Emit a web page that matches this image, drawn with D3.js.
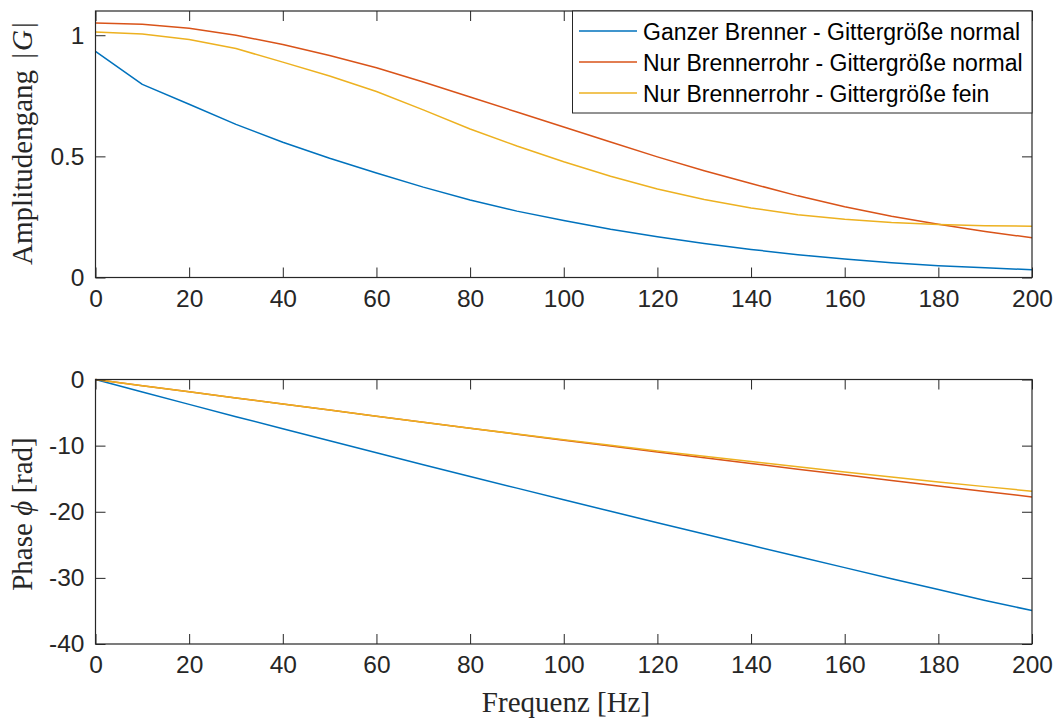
<!DOCTYPE html>
<html>
<head>
<meta charset="utf-8">
<script src="https://cdn.jsdelivr.net/npm/d3@7"></script>
<style>
  html, body { margin: 0; padding: 0; background: #fff; }
  svg { display: block; }
  .tick text { font-family: "Liberation Sans", Arial, sans-serif; font-size: 24.5px; fill: #262626; }
  .lbl { font-family: "Liberation Serif", "Times New Roman", serif; font-size: 29px; fill: #262626; }
  .leg { font-family: "Liberation Sans", Arial, sans-serif; font-size: 23px; fill: #000; }
</style>
</head>
<body>
<script>
// ---- data ----
const freq = [0,10,20,30,40,50,60,70,80,90,100,110,120,130,140,150,160,170,180,190,200];
const seriesNames = [
  "Ganzer Brenner - Gittergröße normal",
  "Nur Brennerrohr - Gittergröße normal",
  "Nur Brennerrohr - Gittergröße fein"
];
const seriesColors = ["#0072BD", "#D95319", "#EDB120"];
const ampGanzNormal = [0.933,0.797,0.715,0.632,0.558,0.492,0.431,0.373,0.320,0.274,0.235,0.199,0.168,0.140,0.116,0.094,0.076,0.061,0.049,0.040,0.032];
const ampRohrNormal = [1.050,1.045,1.029,1.000,0.962,0.916,0.866,0.807,0.745,0.683,0.621,0.559,0.498,0.441,0.388,0.337,0.292,0.253,0.220,0.190,0.164];
const ampRohrFein   = [1.013,1.005,0.982,0.945,0.889,0.832,0.768,0.692,0.613,0.543,0.478,0.418,0.365,0.322,0.287,0.259,0.240,0.227,0.219,0.214,0.212];
const phaseGanzNormal = [0,-1.88,-3.76,-5.62,-7.45,-9.27,-11.08,-12.88,-14.66,-16.43,-18.19,-19.93,-21.66,-23.38,-25.08,-26.77,-28.45,-30.12,-31.77,-33.41,-34.95];
const phaseRohrNormal = [0,-0.93,-1.86,-2.79,-3.71,-4.63,-5.55,-6.46,-7.37,-8.27,-9.17,-10.06,-10.95,-11.83,-12.70,-13.56,-14.42,-15.27,-16.11,-16.94,-17.76];
const phaseRohrFein   = [0,-0.93,-1.86,-2.79,-3.71,-4.63,-5.55,-6.46,-7.36,-8.24,-9.10,-9.95,-10.80,-11.60,-12.40,-13.20,-14.00,-14.75,-15.50,-16.20,-16.90];
const xTicks = [0,20,40,60,80,100,120,140,160,180,200];
const ampTicks = [0,0.5,1];
const phaseTicks = [0,-10,-20,-30,-40];

const W = 1057, H = 720;
const svg = d3.select("body").append("svg").attr("width", W).attr("height", H);

const xL = 95.5, xR = 1032;
const x = d3.scaleLinear().domain([0,200]).range([xL, xR]);
const yA = d3.scaleLinear().domain([0,1.1]).range([277.5, 11]);
const yP = d3.scaleLinear().domain([-40,0]).range([644, 379.5]);

function panel(y, yTicks, yFmt, series) {
  const g = svg.append("g");
  const [yb, yt] = y.range();
  const line = d3.line().x((d,i) => x(freq[i])).y(d => y(d));
  series.forEach((s, k) => {
    g.append("path").datum(s).attr("d", line)
      .attr("fill","none").attr("stroke", seriesColors[k]).attr("stroke-width", 1.5)
      .attr("stroke-linejoin","round");
  });
  const ax = (sel) => { sel.select(".domain").remove(); sel.selectAll(".tick line").attr("stroke","#262626"); };
  g.append("g").attr("transform",`translate(0,${yb})`)
    .call(d3.axisBottom(x).tickValues(xTicks).tickSizeInner(-10).tickSizeOuter(0).tickPadding(12).tickFormat(d=>String(d)))
    .call(ax);
  g.append("g").attr("transform",`translate(0,${yt})`)
    .call(d3.axisTop(x).tickValues(xTicks).tickSizeInner(-10).tickSizeOuter(0).tickFormat(""))
    .call(ax);
  g.append("g").attr("transform",`translate(${xL},0)`)
    .call(d3.axisLeft(y).tickValues(yTicks).tickSizeInner(-10).tickSizeOuter(0).tickPadding(11).tickFormat(yFmt))
    .call(ax);
  g.append("g").attr("transform",`translate(${xR},0)`)
    .call(d3.axisRight(y).tickValues(yTicks).tickSizeInner(-10).tickSizeOuter(0).tickFormat(""))
    .call(ax);
  g.selectAll(".tick text").attr("font-family", null).attr("font-size", null);
  g.append("rect").attr("x", xL).attr("y", yt).attr("width", xR - xL).attr("height", yb - yt)
    .attr("fill","none").attr("stroke","#262626").attr("stroke-width",1.2);
  return g;
}

panel(yA, ampTicks, d => String(d), [ampGanzNormal, ampRohrNormal, ampRohrFein]);
panel(yP, phaseTicks, d => String(d), [phaseGanzNormal, phaseRohrNormal, phaseRohrFein]);

// y labels
const lab1 = svg.append("text").attr("class","lbl").attr("text-anchor","middle")
  .attr("transform","translate(32,143.5) rotate(-90)");
lab1.append("tspan").text("Amplitudengang ");
lab1.append("tspan").attr("dx", 4).text("|");
lab1.append("tspan").attr("font-style","italic").attr("dx", 2).text("G");
lab1.append("tspan").attr("dx", 2).text("|");

const lab2 = svg.append("text").attr("class","lbl").attr("text-anchor","middle")
  .attr("transform","translate(32,514) rotate(-90)");
lab2.append("tspan").text("Phase ");
lab2.append("tspan").attr("font-style","italic").text("ϕ");
lab2.append("tspan").text(" [rad]");

svg.append("text").attr("class","lbl").attr("text-anchor","middle")
  .attr("x", 566).attr("y", 712).text("Frequenz [Hz]");

// legend
const leg = svg.append("g");
leg.append("rect").attr("x", 572.5).attr("y", 11).attr("width", 459.5).attr("height", 102)
  .attr("fill","#fff").attr("stroke","#262626").attr("stroke-width",1);
const rowY = [31, 62, 93];
seriesNames.forEach((n, k) => {
  leg.append("line").attr("x1", 579).attr("x2", 637).attr("y1", rowY[k]).attr("y2", rowY[k])
    .attr("stroke", seriesColors[k]).attr("stroke-width", 1.5);
  leg.append("text").attr("class","leg").attr("x", 643).attr("y", rowY[k] + 9).text(n);
});
</script>
</body>
</html>
